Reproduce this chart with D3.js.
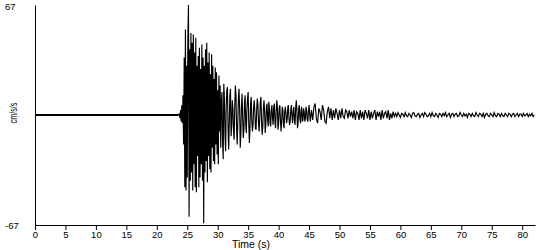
<!DOCTYPE html>
<html>
<head>
<meta charset="utf-8">
<script src="https://cdn.jsdelivr.net/npm/d3@7"></script>
<style>
  html, body { margin: 0; padding: 0; background: #fff; }
  svg { display: block; }
  text { font-family: "Liberation Sans", Arial, sans-serif; fill: #000; }
</style>
</head>
<body>
<svg id="chart" width="550" height="250"></svg>
<script>
// ---- data ----
const xTickValues = [0, 5, 10, 15, 20, 25, 30, 35, 40, 45, 50, 55, 60, 65, 70, 75, 80];
const yTickValues = [67, -67];
const yTickLabels = ["67", "-67"];
const xTitle = "Time (s)";
const yTitle = "cm/s/s";

// quiet record before the event (time, value)
const preEventTimes = [0, 23.6];
const preEventValues = [0, 0];

// strong-motion part: starts at 23.6 s, one sample every 0.1 s
const strongStart = 23.6;
const strongStep = 0.1;
const strongValues = [
  0, 1, -2, 3, -4, 6, -5, 12, -18, 35,
  -44, 52, -46, 30, -38, 48, 67, -62, 40, -40,
  50, -35, 44, -46, 49, -30, 38, -44, 47, -47,
  30, -25, 36, -44, 41, -38, 28, -30, 43, -40,
  35, -66, 30, -35, 40, -28, 44, -41, 32, -25,
  38, -33, 25, -35, 37, -20, 30, -28, 22, -30,
  29, -18, 26, -24, 15, -30, 24, -10, 18, -20,
  8, 14, -16, -27, 19, 10, -12, -22, 6, 15,
  17, -8, -21, -5, 12, 16, -13, -6, 9, 4,
  -10, -15, 5, 18, 12, -8, -18, -4, 10, 16,
  3, -20, -12, 6, 13, -2, -14, -9, 8, 12,
  -6, -11, 4, 10, 14, -5, -17, -8, 7, 11,
  -3, -10, -6, 5, 9, 2, -8, -9, 3, 10,
  6, -5, -10, -2, 8, 11, -4, -12, -7, 4,
  9, 2, -11, -6, 5, 7, -3, -7, 8, 4,
  -5, -7, 3, 6, -2, -6, 5, 7, -4, -8,
  2, 9, 5, -9, -5, 4, 6, -3, -10, -4,
  5, 3, -6, -8, 2, 5, 1, -5, -3, 4,
  6, -2, -6, -4, 3, 6, -1, -5, 2, 5,
  -3, -6, 4, 9, 3, -8, -5, 4, 6, -2,
  -5, 3, 5, -4, -3, 4, 2, -4, -2, 5,
  3, -3, -4, 2
];

// coda: starts at 45.0 s, one sample every 0.2 s
const codaStart = 45.0;
const codaStep = 0.2;
const codaValues = [
  6, -4, 3, -3, 5, 7, -2, -5, 4, 2,
  -3, 6, 3, -4, -5, 2, 5, -2, 4, -3,
  3, -2, 4, 1, -3, 3, -2, 4, -1, -2,
  3, 2, -2, 3, -1, 2,
  -2, 3, -3, 2, 1, -3, 3, -2, 2, -3,
  3, 1, -2, 3, -3, 2, -2, 1, 3, -3,
  2, -1, 2, -3, 3, -2, 1, 2, -2, 3,
  -3, 1, -2, 2, -1,
  1, -1, 1.5, 0, -1.5, 1, 0.5, -1, 1.5, -0.5,
  -1, 1, 0, -1.5, 1, 1.5, -0.5, -1, 0.5, 1,
  -1.5, 0, 1, -1, 1.5, 0.5, -1, -0.5, 1, -1,
  1.5, -0.5, -1, 1, 0, -1.5, 1, 0.5, -1, 1,
  -0.5, 1.5, -1, 0, 1, -1.5, 0.5, 1, -1, 0.5,
  1, -1, -0.5, 1.5, 0, -1, 1, -0.5, 0.5, -1.5,
  1, 0.5, -1, 1, -0.5, -1, 1.5, 0, -1, 1,
  0.5, -1, 1, -1.5, 0.5, 1, -0.5, -1, 1, 0,
  -1, 1.5, -0.5, -1, 1, 0.5, -1, 1, -0.5, -1,
  1, 0, -1, 1, 0.5, -1, 0.5, 1, -1, 0,
  1, -1, 0.5, 0.5, -1, 1, -0.5, 0, 1, -1,
  0.5, -0.5, 1, -1, 0
];

// ---- build ----
const svg = d3.select("#chart");
const x = d3.scaleLinear().domain([0, 82.1]).range([35, 535]);
const y = d3.scaleLinear().domain([-67, 67]).range([225, 5]);

const prePts = preEventTimes.map((t, i) => [t, preEventValues[i]]);
const pts = [[strongStart, 0]]
  .concat(strongValues.map((v, i) => [strongStart + i * strongStep, v]))
  .concat(codaValues.map((v, i) => [codaStart + i * codaStep, v]));

const line = d3.line().x(d => x(d[0])).y(d => y(d[1]));

svg.append("path").datum(prePts).attr("d", line)
  .attr("fill", "none").attr("stroke", "#000").attr("stroke-width", 2);
svg.append("path").datum(pts).attr("d", line)
  .attr("fill", "none").attr("stroke", "#000").attr("stroke-width", 1.15)
  .attr("stroke-linejoin", "miter");

// x axis
const xAxis = svg.append("g").attr("transform", `translate(0,${y(-67)})`)
  .call(d3.axisBottom(x).tickValues(xTickValues).tickSize(5).tickSizeOuter(0).tickPadding(1));
xAxis.selectAll("text").attr("font-size", "9.5px").attr("font-family", "Liberation Sans, Arial, sans-serif");
xAxis.selectAll("path, line").attr("stroke", "#000");

// y axis line
const yAxis = svg.append("g").attr("transform", `translate(${x(0)},0)`)
  .call(d3.axisLeft(y).tickValues([]).tickSizeOuter(0));
yAxis.selectAll("path").attr("stroke", "#000");

// y tick labels (left aligned at the window edge)
svg.selectAll(".ylab").data(yTickValues).enter().append("text")
  .attr("class", "ylab")
  .attr("x", 5)
  .attr("y", (d, i) => i === 0 ? y(d) + 5 : y(d) + 3.5)
  .attr("font-size", "9.5px")
  .text((d, i) => yTickLabels[i]);

// titles
svg.append("text").attr("x", 251).attr("y", 248)
  .attr("text-anchor", "middle").attr("font-size", "10px")
  .attr("textLength", 38).attr("lengthAdjust", "spacingAndGlyphs")
  .text(xTitle);
svg.append("text")
  .attr("transform", `translate(16.5,${y(0) - 2}) rotate(-90)`)
  .attr("text-anchor", "middle").attr("font-size", "10px")
  .attr("textLength", 21).attr("lengthAdjust", "spacingAndGlyphs")
  .text(yTitle);
</script>
</body>
</html>
